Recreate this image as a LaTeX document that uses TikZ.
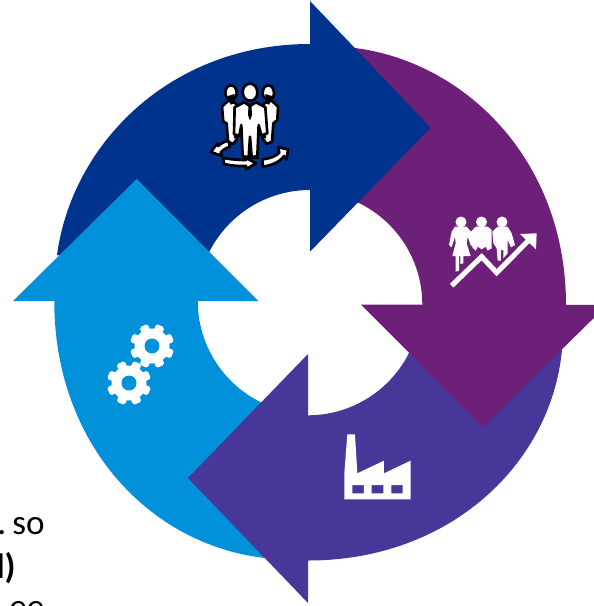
\documentclass[tikz,border=0pt]{standalone}
\usepackage{fontspec}
\setmainfont{Carlito}
\definecolor{darkblue}{HTML}{00338D}
\definecolor{violet}{HTML}{6D2077}
\definecolor{indigo}{HTML}{483698}
\definecolor{lightblue}{HTML}{0091DA}
\tikzset{
  traced/.style={x=0.00667cm,y=-0.00667cm},
  staff/.style={fill=white,draw=black,line width=1.5pt,line join=round},
  cuttext/.style={inner sep=0pt,font=\fontsize{20}{20}\selectfont}
}
\begin{document}
\begin{tikzpicture}[x=0.02cm,y=0.02cm]
  \useasboundingbox (0,0) rectangle (593,-606);

  % Texto cortado a la izquierda
  \node[cuttext,anchor=base east] (textso) at (45,-534) {.\kern-1pt\ so};
  \node[cuttext,anchor=base east,font=\fontsize{20}{20}\selectfont\bfseries] (textclose) at (16,-578) {l)};
  \node[cuttext,anchor=base west] (textcut) at (9,-618) {ee};

  % Sectores del anillo
  \fill[darkblue] (315,-190) -- (310,-190) arc (90:165:113) -- (57,-255) .. controls (72,-144) and (170,-44) .. (310,-44) -- (315,-44) -- cycle;
  \fill[violet] (355,-48) .. controls (465,-62) and (566,-160) .. (566,-305) -- (566,-310) -- (422.3,-310) -- (422.3,-304.5) arc (0:75:113) -- cycle;
  \fill[indigo] (303,-415.3) -- (308,-415.3) arc (-90:-15:113) -- (562,-350) .. controls (551,-464) and (450,-560.5) .. (308,-560.5) -- (303,-560.5) -- cycle;
  \fill[lightblue] (54.3,-296) -- (54.3,-301) .. controls (54,-444) and (150,-545) .. (265,-558) -- (281.5,-410) arc (255:180:113) -- (197.7,-296) -- cycle;

  % Puntas de flecha
  \fill[darkblue] (310,-1) -- (430.7,-127.7) -- (310,-251.7) -- cycle;
  \fill[violet] (607,-305) -- (483,-427) -- (361,-304.5) -- cycle;
  \fill[indigo] (308,-603) -- (188,-478) -- (308,-354) -- cycle;
  \fill[lightblue] (13,-301) -- (136.7,-179) -- (258.3,-301) -- cycle;

  % Grupo de personas
  \begin{scope}[shift={(200,-70)},traced]
    % Izquierda
    \draw[staff] (66,110) -- (85,92) -- (108,100) -- (112,205) -- (100,222) -- (84,215) -- (80,160) -- (70,155) -- cycle;
    \draw[staff] (76,70) .. controls (76,38) and (110,38) .. (110,70) .. controls (110,95) and (78,95) .. (76,70) -- cycle;
    \fill[black] (84,78) -- (104,72) -- (104,100) -- (92,104) -- cycle;
    \fill[black] (100,110) -- (108,110) -- (112,205) -- (102,205) -- cycle;
    % Derecha
    \draw[staff] (234,110) -- (215,92) -- (192,100) -- (188,205) -- (200,222) -- (216,215) -- (220,160) -- (232,150) -- cycle;
    \draw[staff] (188,70) .. controls (188,38) and (222,38) .. (222,70) .. controls (222,95) and (190,95) .. (188,70) -- cycle;
    \fill[black] (196,72) -- (216,78) -- (208,104) -- (196,100) -- cycle;
    \fill[black] (192,110) -- (200,110) -- (198,205) -- (188,205) -- cycle;
    % Centro
    \draw[staff] (104,112) -- (132,97) -- (150,108) -- (168,97) -- (196,112) -- (202,190) -- (184,196) -- (176,165) -- (172,258) -- (155,262) -- (150,200) -- (146,262) -- (128,258) -- (124,165) -- (118,198) -- (102,192) -- cycle;
    \draw[staff] (128,68) .. controls (128,32) and (172,32) .. (172,68) .. controls (172,100) and (130,100) .. (128,68) -- cycle;
    \fill[black] (146,100) -- (154,100) -- (156,135) -- (150,152) -- (144,135) -- cycle;
    \fill[black] (125,262) rectangle (146,268);
    \fill[black] (155,262) rectangle (176,268);
    % Flechas del suelo
    \draw[staff] (85,212) .. controls (72,216) and (62,220) .. (54,228) -- (52,220) -- (33,246) -- (66,258) -- (62,248) .. controls (68,240) and (78,234) .. (90,230) -- cycle;
    \draw[staff] (70,264) .. controls (90,268) and (115,270) .. (138,270) -- (137,263) -- (168,280) -- (138,298) -- (138,288) .. controls (115,289) and (90,286) .. (72,282) -- cycle;
    \draw[staff] (187,268) .. controls (210,266) and (230,258) .. (238,248) -- (234,232) -- (264,238) -- (260,268) -- (252,258) .. controls (240,276) and (215,286) .. (189,290) -- cycle;
  \end{scope}

  % Personas y flecha de crecimiento
  \fill[white] (461,-222) circle (5.5) (481.5,-222) circle (5.5) (502,-222) circle (5.5);
  \begin{scope}[shift={(435,-220)},traced]
    \fill[white] (60,20) -- (95,20) -- (108,35) -- (118,70) -- (108,78) -- (98,50) -- (95,70) -- (107,108) -- (85,108) -- (85,130) -- (76,132) -- (76,108) -- (72,108) -- (72,152) -- (62,155) -- (62,108) -- (52,108) -- (62,70) -- (60,50) -- (50,82) -- (42,75) -- (50,35) -- cycle;
    \fill[white] (122,20) -- (158,20) -- (170,30) -- (170,85) -- (158,92) -- (152,80) -- (140,88) -- (128,80) -- (122,92) -- (112,82) -- (108,35) -- cycle;
    \fill[white] (188,20) -- (218,20) -- (230,40) -- (240,75) -- (228,82) -- (218,60) -- (218,100) -- (205,115) -- (205,90) -- (198,90) -- (198,122) -- (188,122) -- (185,85) -- (175,70) -- (172,35) -- cycle;
    \draw[white,line width=2.9pt] (50,197) -- (140,110) -- (185,158) -- (280,62);
    \fill[white] (255,42) -- (305,40) -- (303,88) -- cycle;
  \end{scope}

  % Fabrica
  \begin{scope}[shift={(330,-420)},traced]
    \fill[white,even odd rule] (52,43) -- (75,43) -- (82,160) -- (162,122) -- (162,160) -- (242,122) -- (242,238) -- (43,238) -- (43,160) -- cycle
      (67,195) rectangle (102,220) (125,195) rectangle (160,220) (184,195) rectangle (218,220);
  \end{scope}

  % Engranajes
  \foreach \gx/\gy in {152/-346,129/-383} {
    \fill[white] (\gx,\gy) circle (17.5);
    \foreach \ang in {0,45,...,315}
      \fill[white,rounded corners=1pt,shift={(\gx,\gy)},rotate=\ang+22.5] (15,-4.5) rectangle (22,4.5);
    \fill[lightblue] (\gx,\gy) circle (7.5);
  }
\end{tikzpicture}
\end{document}
